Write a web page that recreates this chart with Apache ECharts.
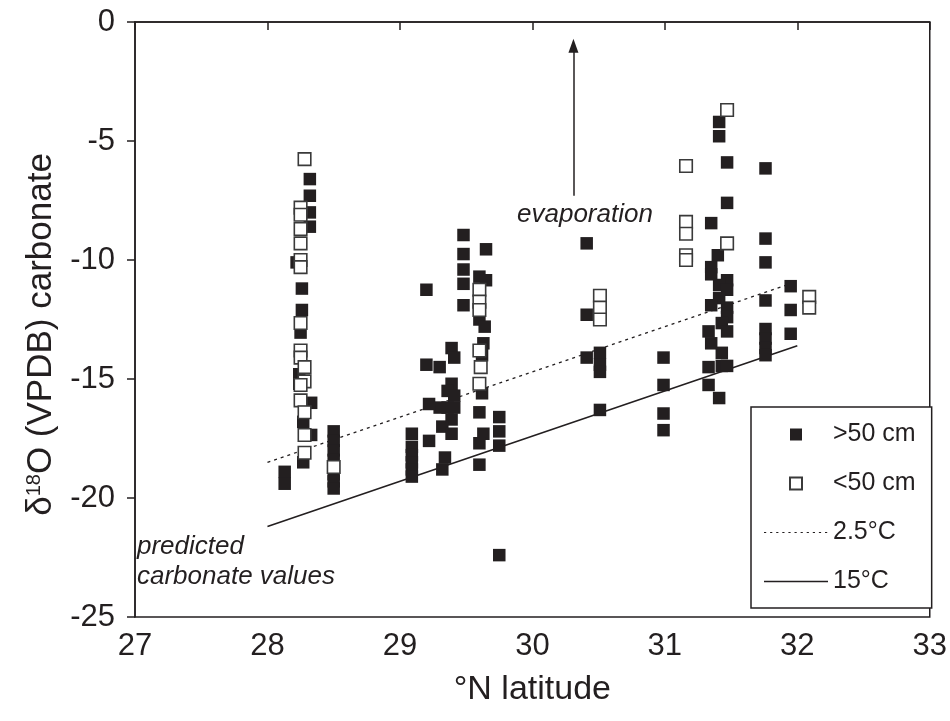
<!DOCTYPE html>
<html>
<head>
<meta charset="utf-8">
<script src="https://cdn.jsdelivr.net/npm/echarts@6/dist/echarts.min.js"></script>
<style>html,body{margin:0;padding:0;background:#fff}#c{width:950px;height:721px}</style>
</head>
<body>
<div id="c"></div>
<script>
// >50 cm (filled squares)
const deepSamples = [
  [28.32,-6.6],[28.32,-7.3],[28.32,-8.0],[28.32,-8.6],[28.22,-10.1],[28.26,-11.2],[28.26,-12.1],[28.25,-13.05],
  [28.24,-14.8],[28.24,-15.2],[28.33,-16.0],[28.27,-16.8],[28.33,-17.35],[28.27,-18.5],[28.13,-18.9],[28.13,-19.4],
  [28.5,-17.2],[28.5,-17.6],[28.5,-18.0],[28.5,-18.4],[28.5,-19.0],[28.5,-19.3],[28.5,-19.6],
  [29.48,-8.95],[29.48,-9.75],[29.48,-10.4],[29.48,-11.0],[29.48,-11.9],[29.65,-9.55],[29.6,-10.7],[29.65,-10.85],
  [29.2,-11.25],[29.6,-12.5],[29.64,-12.8],[29.63,-13.5],[29.39,-13.7],[29.41,-14.1],[29.2,-14.4],[29.3,-14.5],
  [29.39,-15.2],[29.36,-15.5],[29.41,-15.7],[29.36,-16.2],[29.3,-16.2],[29.22,-16.05],[29.41,-16.2],[29.62,-15.6],
  [29.62,-14.0],[29.6,-16.4],[29.75,-16.6],[29.75,-17.2],[29.39,-16.7],[29.32,-17.0],[29.39,-17.3],[29.09,-17.3],
  [29.22,-17.6],[29.63,-17.3],[29.6,-17.7],[29.75,-17.8],[29.09,-17.85],[29.09,-18.2],[29.09,-18.5],[29.09,-18.8],
  [29.09,-19.1],[29.34,-18.3],[29.32,-18.8],[29.6,-18.6],[29.75,-22.4],
  [30.41,-9.3],[30.41,-12.3],[30.41,-14.1],[30.51,-13.9],[30.51,-14.4],[30.51,-14.7],[30.51,-16.3],
  [30.99,-14.1],[30.99,-15.25],[30.99,-16.45],[30.99,-17.15],
  [31.41,-4.2],[31.41,-4.8],[31.47,-5.9],[31.76,-6.15],[31.47,-7.6],[31.35,-8.45],[31.76,-9.1],[31.76,-10.1],
  [31.4,-9.8],[31.35,-10.3],[31.35,-10.6],[31.47,-10.85],[31.41,-11.05],[31.47,-11.25],[31.41,-11.6],[31.35,-11.9],
  [31.47,-12.0],[31.47,-12.4],[31.43,-12.65],[31.47,-13.0],[31.33,-13.0],[31.35,-13.5],[31.43,-13.9],[31.33,-14.5],
  [31.43,-14.45],[31.47,-14.45],[31.33,-15.25],[31.41,-15.8],
  [31.76,-11.7],[31.76,-12.9],[31.76,-13.3],[31.76,-13.7],[31.76,-14.0],[31.95,-11.1],[31.95,-12.1],[31.95,-13.1]
];
// <50 cm (open squares)
const shallowSamples = [
  [28.28,-5.76],[28.25,-7.8],[28.25,-8.1],[28.25,-8.7],[28.25,-9.3],[28.25,-10.0],[28.25,-10.3],[28.25,-12.65],
  [28.25,-13.8],[28.25,-14.1],[28.28,-14.5],[28.28,-15.1],[28.25,-15.25],[28.25,-15.9],[28.28,-16.4],[28.28,-17.35],
  [28.28,-18.1],[28.5,-18.7],
  [29.6,-11.25],[29.6,-11.75],[29.6,-12.1],[29.6,-13.8],[29.61,-14.5],[29.6,-15.2],
  [30.51,-11.5],[30.51,-12.0],[30.51,-12.5],
  [31.47,-3.7],[31.16,-6.05],[31.16,-8.4],[31.16,-8.9],[31.16,-9.8],[31.16,-10.0],[31.47,-9.3],
  [32.09,-11.55],[32.09,-12.0]
];
// predicted carbonate lines
const line25 = [[28,-18.5],[32,-10.9]];
const line15 = [[28,-21.2],[32,-13.6]];
// evaporation arrow
const arrowFrom = [30.31,-7.3];
const arrowTo = [30.31,-1.0];
const xTicks = [27,28,29,30,31,32,33];
const yTicks = [-25,-20,-15,-10,-5,0];

const ink = '#231f20';
const font = '"Liberation Sans", Arial, sans-serif';
// legend icon shapes (64 x 12 box)
const squareIcon = 'path://M0,0M64,12M26,0L38,0L38,12L26,12Z';
const solidIcon = 'path://M0,0M64,12M0,5.3L64,5.3L64,6.7L0,6.7Z';
let dotted = 'path://M0,0M64,12';
for (let i = 0; i < 11; i++) {
  const x0 = i * 6.1;
  dotted += 'M' + x0 + ',5.4L' + (x0 + 2.2) + ',5.4L' + (x0 + 2.2) + ',6.6L' + x0 + ',6.6Z';
}

const chart = echarts.init(document.getElementById('c'), null, {renderer:'canvas'});
chart.setOption({
  backgroundColor:'#ffffff',
  animation:false,
  textStyle:{fontFamily:font, color:ink},
  grid:{left:135, right:13, top:22, bottom:104, show:true, borderColor:ink, borderWidth:1.5, backgroundColor:'transparent'},
  xAxis:{
    type:'value', min:xTicks[0], max:xTicks[xTicks.length-1], interval:1,
    name:'°N latitude', nameLocation:'middle', nameGap:56,
    nameTextStyle:{fontSize:34, color:ink, fontFamily:font},
    axisLine:{lineStyle:{color:ink, width:1.5}},
    axisTick:{show:true, inside:false, length:8, lineStyle:{color:ink, width:1.5}},
    axisLabel:{fontSize:31, color:ink, margin:14, fontFamily:font},
    splitLine:{show:false}
  },
  yAxis:{
    type:'value', min:yTicks[0], max:yTicks[yTicks.length-1], interval:5,
    name:'δ{sup|18}O (VPDB) carbonate', nameLocation:'middle', nameGap:51,
    nameTextStyle:{fontSize:35, color:ink, fontFamily:font, padding:[0,30,0,0],
      rich:{sup:{fontSize:20, color:ink, fontFamily:font, verticalAlign:'top', padding:[0,0,12,0]}}},
    axisLine:{lineStyle:{color:ink, width:1.5}},
    axisTick:{show:true, inside:false, length:8, lineStyle:{color:ink, width:1.5}},
    axisLabel:{fontSize:31, color:ink, margin:20, fontFamily:font},
    splitLine:{show:false}
  },
  legend:{
    left:751, top:407, orient:'vertical', align:'left',
    padding:[15,16,14,12], itemGap:24, itemWidth:64, itemHeight:12,
    borderColor:ink, borderWidth:1.5, backgroundColor:'#fff',
    textStyle:{fontSize:25, color:ink, fontFamily:font},
    data:[
      {name:'>50 cm', icon:squareIcon},
      {name:'<50 cm', icon:squareIcon},
      {name:'2.5°C', icon:dotted, itemStyle:{color:ink, borderWidth:0}},
      {name:'15°C', icon:solidIcon, itemStyle:{color:ink, borderWidth:0}}
    ]
  },
  series:[
    {name:'2.5°C', type:'line', data:line25, symbol:'none', lineStyle:{color:ink, width:1.3, type:[3,4]}, itemStyle:{color:ink}, z:2},
    {name:'15°C', type:'line', data:line15, symbol:'none', lineStyle:{color:ink, width:1.6}, itemStyle:{color:ink}, z:2},
    {name:'>50 cm', type:'scatter', data:deepSamples, symbol:'rect', symbolSize:12.5, itemStyle:{color:ink, opacity:1}, z:3},
    {name:'<50 cm', type:'scatter', data:shallowSamples, symbol:'rect', symbolSize:12.5, itemStyle:{color:'#fff', borderColor:'#3a3a3a', borderWidth:1.6, opacity:1}, z:4},
    {name:'arrow', type:'line', data:[], symbol:'none', silent:true,
      markLine:{silent:true, symbol:['none','triangle'], symbolSize:[10,14], animation:false,
        lineStyle:{color:ink, width:1.5, type:'solid'}, label:{show:false},
        data:[[{coord:arrowFrom},{coord:arrowTo}]]}}
  ],
  graphic:[
    {type:'text', left:517, top:202, style:{text:'evaporation', font:'italic 26px '+font, fill:ink}},
    {type:'text', left:137, top:534, style:{text:'predicted', font:'italic 26px '+font, fill:ink}},
    {type:'text', left:137, top:564, style:{text:'carbonate values', font:'italic 26px '+font, fill:ink}}
  ]
});
</script>
</body>
</html>
